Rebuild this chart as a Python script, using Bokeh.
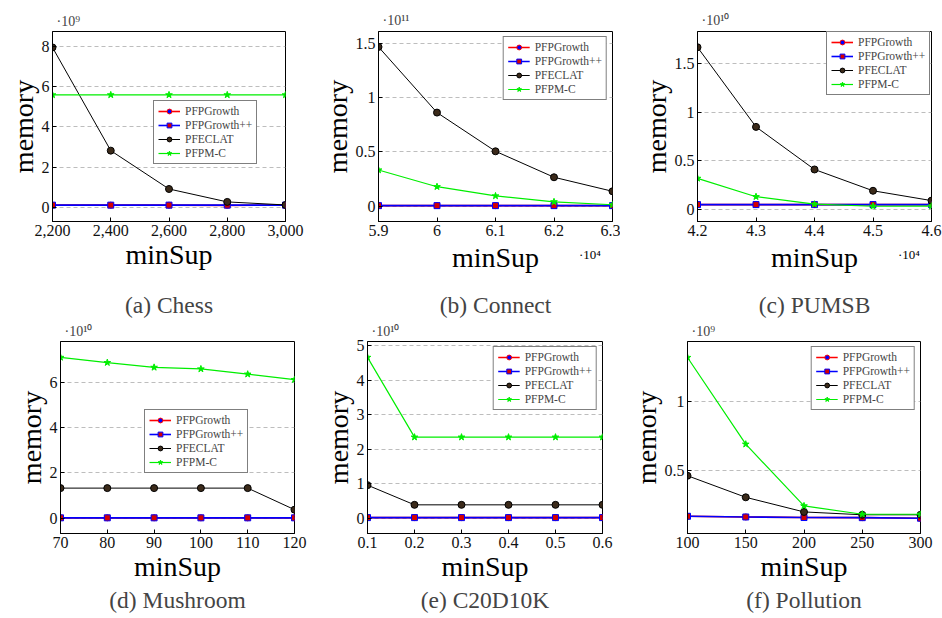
from bokeh.plotting import figure
from bokeh.models import (Range1d, FixedTicker, CustomJSTickFormatter, NumeralTickFormatter,
                          Legend, LegendItem, LinearAxis, Title)
from bokeh.layouts import row, column
from bokeh.embed import file_html
from bokeh.resources import INLINE

FONT = "Liberation Serif"

series_names = ["PFPGrowth", "PFPGrowth++", "PFECLAT", "PFPM-C"]

# ---------------- data (memory values expressed in units of the panel's scale) -------------
# (a) Chess, memory x 1e9
chess_minsup = [2200, 2400, 2600, 2800, 3000]
chess_pfpgrowth = [0.12, 0.12, 0.12, 0.11, 0.12]
chess_pfpgrowthpp = [0.12, 0.12, 0.12, 0.12, 0.12]
chess_pfeclat = [7.93, 2.82, 0.92, 0.28, 0.13]
chess_pfpmc = [5.58, 5.58, 5.58, 5.58, 5.58]
chess_yticks = [0, 2, 4, 6, 8]

# (b) Connect, minSup x 1e4, memory x 1e11
connect_minsup = [59000, 60000, 61000, 62000, 63000]
connect_pfpgrowth = [0.004, 0.004, 0.004, 0.004, 0.004]
connect_pfpgrowthpp = [0.004, 0.004, 0.004, 0.004, 0.004]
connect_pfeclat = [1.464, 0.86, 0.504, 0.265, 0.136]
connect_pfpmc = [0.332, 0.178, 0.093, 0.039, 0.012]
connect_yticks = [0, 0.5, 1, 1.5]

# (c) PUMSB, minSup x 1e4, memory x 1e10
pumsb_minsup = [42000, 43000, 44000, 45000, 46000]
pumsb_pfpgrowth = [0.05, 0.05, 0.05, 0.05, 0.05]
pumsb_pfpgrowthpp = [0.05, 0.05, 0.05, 0.05, 0.05]
pumsb_pfeclat = [1.668, 0.849, 0.411, 0.192, 0.091]
pumsb_pfpmc = [0.32, 0.131, 0.054, 0.033, 0.035]
pumsb_yticks = [0, 0.5, 1, 1.5]

# (d) Mushroom, memory x 1e10
mushroom_minsup = [70, 80, 90, 100, 110, 120]
mushroom_pfpgrowth = [0.02, 0.02, 0.02, 0.02, 0.02, 0.02]
mushroom_pfpgrowthpp = [0.02, 0.02, 0.02, 0.02, 0.02, 0.02]
mushroom_pfeclat = [1.33, 1.33, 1.33, 1.33, 1.33, 0.38]
mushroom_pfpmc = [7.09, 6.86, 6.65, 6.58, 6.35, 6.11]
mushroom_yticks = [0, 2, 4, 6]

# (e) C20D10K, memory x 1e10
c20_minsup = [0.1, 0.2, 0.3, 0.4, 0.5, 0.6]
c20_pfpgrowth = [0.02, 0.02, 0.02, 0.02, 0.02, 0.02]
c20_pfpgrowthpp = [0.02, 0.02, 0.02, 0.02, 0.02, 0.02]
c20_pfeclat = [0.96, 0.39, 0.39, 0.39, 0.39, 0.39]
c20_pfpmc = [4.66, 2.35, 2.35, 2.35, 2.35, 2.35]
c20_yticks = [0, 1, 2, 3, 4, 5]

# (f) Pollution, memory x 1e9
pollution_minsup = [100, 150, 200, 250, 300]
pollution_pfpgrowth = [0.162, 0.157, 0.153, 0.152, 0.148]
pollution_pfpgrowthpp = [0.162, 0.157, 0.153, 0.152, 0.148]
pollution_pfeclat = [0.459, 0.301, 0.194, 0.173, 0.173]
pollution_pfpmc = [1.325, 0.69, 0.238, 0.177, 0.177]
pollution_yticks = [0.5, 1]

# ---------------- styles ----------------
STYLES = [
    dict(color="#ff0000", lw=1.6, marker="circle", fill="#0000ff", size=6),
    dict(color="#0000ff", lw=1.6, marker="square", fill="#d40000", size=6),
    dict(color="#000000", lw=1.0, marker="circle", fill="#3b2a1a", size=7),
    dict(color="#00ee00", lw=1.2, marker="star", fill="#00ee00", size=7),
]


def to_str():
    return CustomJSTickFormatter(code="return tick.toString();")


def style_label(ax):
    ax.axis_label_text_font = FONT
    ax.axis_label_text_font_size = "28px"
    ax.axis_label_text_font_style = "normal"
    ax.axis_label_text_color = "black"


def make_panel(x, ys, xr, yr, xticks, yticks, xfmt, ymark, xmark, caption, legend_loc,
               width, height, left, fw, top, bottom, mark_standoff, cap_space):
    p = figure(width=width, height=height, output_backend="svg", toolbar_location=None,
               x_range=Range1d(*xr), y_range=Range1d(*yr),
               min_border_left=left, min_border_top=top, min_border_bottom=bottom,
               min_border_right=width - left - fw)
    p.outline_line_color = "black"
    p.outline_line_width = 1
    p.background_fill_color = "white"
    p.border_fill_color = "white"
    p.xgrid.visible = False
    p.ygrid.grid_line_color = "#bdbdbd"
    p.ygrid.grid_line_dash = "4 3"
    p.ygrid.grid_line_width = 1
    p.ygrid.ticker = FixedTicker(ticks=yticks)

    xa = p.below[0]
    ya = p.left[0]
    for ax in (xa, ya):
        ax.axis_line_color = "black"
        ax.major_tick_line_color = "black"
        ax.major_tick_in = 4
        ax.major_tick_out = 0
        ax.minor_tick_line_color = None
        ax.major_label_text_font = FONT
        ax.major_label_text_font_size = "16px"
        ax.major_label_text_color = "#111111"
        style_label(ax)
        ax.axis_label_standoff = 0
        ax.major_label_standoff = 3
    xa.ticker = FixedTicker(ticks=xticks)
    ya.ticker = FixedTicker(ticks=yticks)
    xa.formatter = xfmt
    ya.formatter = to_str()
    ya.axis_label = "memory"

    items = []
    for name, yv, st in zip(series_names, ys, STYLES):
        lr = p.line(x, yv, line_color=st["color"], line_width=st["lw"])
        sr = p.scatter(x, yv, marker=st["marker"], size=st["size"],
                       fill_color=st["fill"], line_color=st["color"], line_width=1)
        items.append(LegendItem(label=name, renderers=[lr, sr]))

    leg = Legend(items=items, location=legend_loc,
                 border_line_color="black", border_line_width=1,
                 background_fill_color="white", background_fill_alpha=1,
                 label_text_font=FONT, label_text_font_size="11.5px",
                 glyph_width=22, glyph_height=12, label_height=12,
                 label_standoff=5, spacing=2, padding=4,
                 margin=0 if isinstance(legend_loc, tuple) else 5)
    p.add_layout(leg)

    # scale marker above the y axis
    p.title.text = ymark
    p.title.align = "left"
    p.title.offset = 4
    p.title.standoff = mark_standoff
    p.title.text_font = FONT
    p.title.text_font_size = "14px"
    p.title.text_font_style = "normal"

    if xmark:
        # second bottom axis: carries the x multiplier (as its only tick label)
        # and the "minSup" axis label, pulled up beside each other
        pos = xr[1] - 0.0965 * (xr[1] - xr[0])
        xm = LinearAxis(ticker=FixedTicker(ticks=[pos]),
                        formatter=CustomJSTickFormatter(code="return '%s';" % xmark),
                        axis_line_color=None, major_tick_line_color=None,
                        minor_tick_line_color=None, major_tick_out=0, major_tick_in=0,
                        major_label_text_font=FONT, major_label_text_font_size="13px",
                        major_label_text_color="black",
                        major_label_standoff=8, axis_label="minSup")
        style_label(xm)
        xm.axis_label_standoff = -23
        p.add_layout(xm, "below")
    else:
        xa.axis_label = "minSup"
    if cap_space > 0:
        p.add_layout(Title(text=" ", text_font_size="1px", standoff=cap_space), "below")
    p.add_layout(Title(text=caption, align="center", standoff=0, text_font=FONT,
                       text_font_size="23.5px", text_font_style="normal"), "below")
    return p


comma_fmt = NumeralTickFormatter(format="0,0")


def e4_fmt():
    return CustomJSTickFormatter(code="return (tick / 10000).toString();")


pa = make_panel(chess_minsup,
                [chess_pfpgrowth, chess_pfpgrowthpp, chess_pfeclat, chess_pfpmc],
                (2200, 3000), (-0.69, 8.72), chess_minsup, chess_yticks, comma_fmt,
                "·10⁹", None, "(a) Chess", (101, 57),
                310, 318, 52, 233, 27, 97, 6, 14)
pb = make_panel(connect_minsup,
                [connect_pfpgrowth, connect_pfpgrowthpp, connect_pfeclat, connect_pfpmc],
                (59000, 63000), (-0.142, 1.606), connect_minsup, connect_yticks, e4_fmt(),
                "·10¹¹", "·10⁴", "(b) Connect", "top_right",
                310, 318, 68, 234, 31, 95, 8, 11)
pc = make_panel(pumsb_minsup,
                [pumsb_pfpgrowth, pumsb_pfpgrowthpp, pumsb_pfeclat, pumsb_pfpmc],
                (42000, 46000), (-0.124, 1.83), pumsb_minsup, pumsb_yticks, e4_fmt(),
                "·10¹⁰", "·10⁴", "(c) PUMSB", (129, 126),
                322, 318, 77, 234, 31, 95, 8, 11)
pd_ = make_panel(mushroom_minsup,
                 [mushroom_pfpgrowth, mushroom_pfpgrowthpp, mushroom_pfeclat, mushroom_pfpmc],
                 (70, 120), (-0.67, 7.79), mushroom_minsup, mushroom_yticks, to_str(),
                 "·10¹⁰", None, "(d) Mushroom", (84, 60),
                 310, 300, 60, 234, 23, 85, 6, 0)
pe = make_panel(c20_minsup,
                [c20_pfpgrowth, c20_pfpgrowthpp, c20_pfeclat, c20_pfpmc],
                (0.1, 0.6), (-0.44, 5.12), c20_minsup, c20_yticks, to_str(),
                "·10¹⁰", None, "(e) C20D10K", "top_right",
                310, 300, 57, 235, 23, 85, 6, 0)
pf = make_panel(pollution_minsup,
                [pollution_pfpgrowth, pollution_pfpgrowthpp, pollution_pfeclat, pollution_pfpmc],
                (100, 300), (0.036, 1.442), pollution_minsup, pollution_yticks, to_str(),
                "·10⁹", None, "(f) Pollution", "top_right",
                322, 300, 67, 233, 23, 85, 6, 0)

layout = column(row(pa, pb, pc, spacing=0), row(pd_, pe, pf, spacing=0), spacing=0)
open("out.html", "w").write(file_html(layout, INLINE))
